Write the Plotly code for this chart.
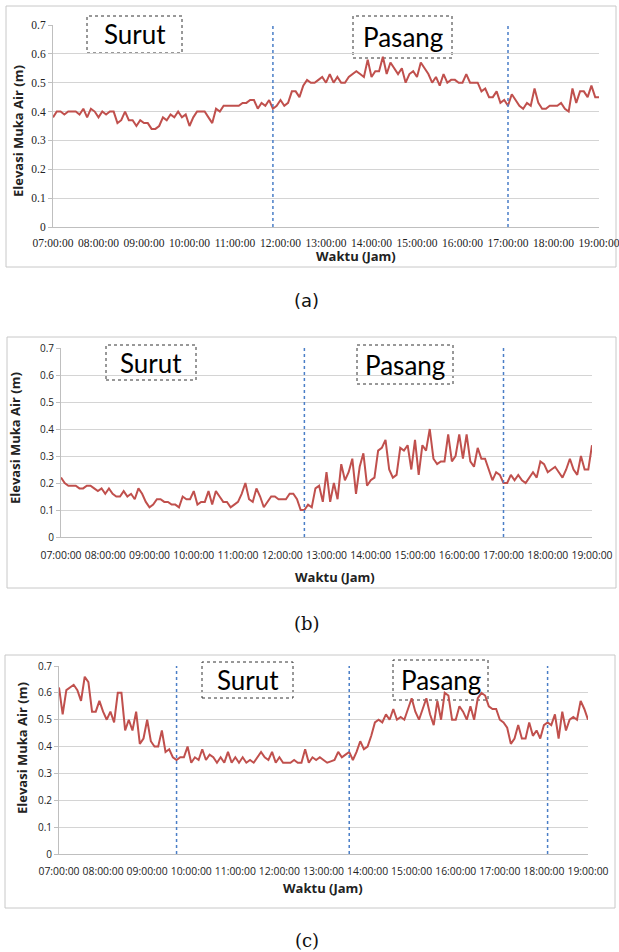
import plotly.graph_objects as go

W, H = 619, 952

# ---------------- data ----------------
tick_hours = list(range(7, 20))
tick_labels = [f"{h:02d}:00:00" for h in tick_hours]
step_minutes = 5

level_a = [0.38,0.40,0.40,0.39,0.40,0.40,0.40,0.39,0.41,0.38,
           0.41,0.40,0.38,0.40,0.39,0.40,0.40,0.36,0.37,0.40,
           0.37,0.37,0.35,0.37,0.36,0.36,0.34,0.34,0.35,0.38,
           0.37,0.39,0.38,0.40,0.38,0.39,0.35,0.38,0.40,0.40,
           0.40,0.38,0.36,0.41,0.40,0.42,0.42,0.42,0.42,0.42,
           0.43,0.43,0.44,0.44,0.41,0.43,0.42,0.44,0.41,0.42,
           0.44,0.42,0.43,0.47,0.47,0.45,0.49,0.51,0.50,0.50,
           0.51,0.52,0.50,0.53,0.50,0.52,0.50,0.50,0.52,0.53,
           0.54,0.53,0.52,0.58,0.52,0.54,0.54,0.59,0.53,0.57,
           0.55,0.53,0.55,0.50,0.53,0.54,0.52,0.57,0.55,0.53,
           0.50,0.52,0.49,0.53,0.50,0.51,0.51,0.50,0.50,0.53,
           0.50,0.50,0.50,0.47,0.48,0.45,0.45,0.47,0.43,0.44,
           0.42,0.46,0.44,0.42,0.41,0.43,0.42,0.48,0.43,0.41,
           0.41,0.42,0.42,0.42,0.43,0.41,0.40,0.48,0.43,0.47,
           0.47,0.45,0.49,0.45,0.45]

level_b = [0.22,0.20,0.19,0.19,0.19,0.18,0.18,0.19,0.19,0.18,
           0.17,0.18,0.16,0.18,0.16,0.15,0.15,0.17,0.15,0.16,
           0.14,0.18,0.16,0.13,0.11,0.12,0.14,0.14,0.13,0.13,
           0.12,0.12,0.11,0.15,0.14,0.14,0.17,0.12,0.13,0.13,
           0.17,0.12,0.17,0.15,0.13,0.13,0.11,0.12,0.13,0.16,
           0.20,0.14,0.13,0.18,0.15,0.11,0.13,0.15,0.15,0.14,
           0.14,0.14,0.16,0.16,0.14,0.10,0.10,0.12,0.11,0.18,
           0.19,0.13,0.24,0.13,0.20,0.14,0.27,0.21,0.24,0.29,
           0.16,0.26,0.31,0.19,0.21,0.22,0.32,0.33,0.36,0.25,
           0.22,0.23,0.33,0.32,0.34,0.25,0.36,0.23,0.34,0.32,
           0.40,0.29,0.27,0.28,0.28,0.38,0.28,0.30,0.38,0.29,
           0.38,0.28,0.26,0.33,0.29,0.29,0.25,0.21,0.24,0.23,
           0.20,0.20,0.23,0.21,0.23,0.21,0.20,0.22,0.24,0.22,
           0.28,0.27,0.24,0.25,0.26,0.24,0.22,0.25,0.29,0.25,
           0.23,0.30,0.25,0.25,0.34]

level_c = [0.62,0.52,0.61,0.62,0.63,0.61,0.57,0.66,0.64,0.53,
           0.53,0.57,0.53,0.50,0.53,0.49,0.60,0.60,0.46,0.50,
           0.46,0.53,0.41,0.43,0.50,0.42,0.40,0.40,0.46,0.38,
           0.39,0.36,0.35,0.36,0.36,0.40,0.34,0.36,0.35,0.39,
           0.35,0.37,0.36,0.34,0.36,0.34,0.38,0.34,0.36,0.34,
           0.36,0.34,0.35,0.34,0.36,0.38,0.36,0.35,0.38,0.34,
           0.36,0.34,0.34,0.34,0.35,0.34,0.34,0.39,0.34,0.36,
           0.35,0.36,0.35,0.34,0.345,0.35,0.38,0.36,0.37,0.38,
           0.35,0.38,0.42,0.39,0.40,0.44,0.49,0.50,0.49,0.52,
           0.50,0.54,0.50,0.51,0.50,0.54,0.58,0.53,0.50,0.54,
           0.58,0.52,0.48,0.57,0.50,0.60,0.59,0.50,0.50,0.55,
           0.53,0.50,0.55,0.50,0.58,0.60,0.59,0.55,0.54,0.54,
           0.50,0.49,0.47,0.41,0.43,0.48,0.43,0.43,0.49,0.44,
           0.46,0.43,0.48,0.49,0.48,0.52,0.43,0.53,0.46,0.50,
           0.51,0.50,0.57,0.54,0.50]

# phase boundaries (hours)
bounds_a = [11 + 50/60, 17.0]
bounds_b = [12.5, 17.0]
bounds_c = [9 + 40/60, 13 + 35/60, 18 + 5/60]

captions = ["(a)", "(b)", "(c)"]
y_title = "Elevasi Muka Air (m)"
x_title = "Waktu (Jam)"

def hours(vals):
    return [7 + i * step_minutes / 60 for i in range(len(vals))]

# ---------------- layout geometry (pixels) ----------------
panels = [
    dict(vals=level_a, bounds=bounds_a, plot=(53, 599, 25, 227), frame=(6, 616, 6, 267),
         tickfont=dict(family="Liberation Serif", size=11.5, color="#222"),
         ytickfont=dict(family="Liberation Serif", size=11.5, color="#222"), standoff=5,
         surut=(87, 182, 16, 53), pasang=(353, 452, 16, 58),
         xtitle=(356, 256), ytitle=(18, 131), caption=(306, 300, "DejaVu Sans")),
    dict(vals=level_b, bounds=bounds_b, plot=(61, 592, 348, 537), frame=(7, 616, 337, 588),
         tickfont=dict(family="Open Sans", size=10.4, color="#222"),
         ytickfont=dict(family="Open Sans", size=10, color="#222"), standoff=9,
         surut=(106, 196, 345, 380), pasang=(357, 453, 345, 384),
         xtitle=(335, 577), ytitle=(15, 438), caption=(307, 623, "DejaVu Serif")),
    dict(vals=level_c, bounds=bounds_c, plot=(59, 588, 666, 854), frame=(5, 615, 655, 908),
         tickfont=dict(family="Open Sans", size=10.4, color="#222"),
         ytickfont=dict(family="Open Sans", size=10, color="#222"), standoff=8,
         surut=(202, 293, 662, 698), pasang=(393, 488, 660, 700),
         xtitle=(323, 888), ytitle=(22, 748), caption=(307, 940, "DejaVu Serif")),
]

fig = go.Figure()
shapes, annotations = [], []
layout = dict(width=W, height=H, margin=dict(l=0, r=0, t=0, b=0), autosize=False,
              paper_bgcolor="white", plot_bgcolor="white", showlegend=False)

def px(x):
    return x / W

def py(y):
    return 1 - y / H

for k, p in enumerate(panels):
    n = "" if k == 0 else str(k + 1)
    xa, ya = "x" + n, "y" + n
    x0, x1, y0, y1 = p["plot"]
    fig.add_trace(go.Scatter(x=hours(p["vals"]), y=p["vals"], mode="lines",
                             line=dict(color="#C0504D", width=2),
                             xaxis=xa, yaxis=ya, hoverinfo="skip"))
    layout["xaxis" + n] = dict(domain=[px(x0), px(x1)], anchor=ya, range=[7, 19],
                               tickvals=tick_hours, ticktext=tick_labels,
                               tickfont=p["tickfont"], showgrid=False, zeroline=False,
                               showline=True, linecolor="#BFBFBF", linewidth=1,
                               ticks="", tickangle=0, automargin=False,
                               ticklabelstandoff=p["standoff"], ticklabeloverflow="allow")
    layout["yaxis" + n] = dict(domain=[py(y1), py(y0)], anchor=xa, range=[0, 0.7],
                               dtick=0.1, tick0=0, tickfont=p["ytickfont"],
                               showgrid=True, gridcolor="#D4D4D4", gridwidth=1.2,
                               zeroline=False, showline=True, linecolor="#BFBFBF",
                               linewidth=1, ticks="outside", ticklen=4,
                               tickcolor="#BFBFBF", automargin=False)
    # outer frame
    fx0, fx1, fy0, fy1 = p["frame"]
    shapes.append(dict(type="rect", xref="paper", yref="paper",
                       x0=px(fx0), x1=px(fx1), y0=py(fy1), y1=py(fy0),
                       line=dict(color="#C8C8C8", width=1), layer="below"))
    # phase boundary lines
    for b in p["bounds"]:
        shapes.append(dict(type="line", xref=xa, yref="paper", x0=b, x1=b,
                           y0=py(y1), y1=py(y0),
                           line=dict(color="#4A7EC7", width=1.5, dash="dot"), layer="above"))
    # label boxes
    for key, txt in (("surut", "Surut"), ("pasang", "Pasang")):
        bx0, bx1, by0, by1 = p[key]
        shapes.append(dict(type="rect", xref="paper", yref="paper",
                           x0=px(bx0), x1=px(bx1), y0=py(by1), y1=py(by0),
                           fillcolor="white", line=dict(color="#333", width=1, dash="dot"),
                           layer="below"))
        annotations.append(dict(text=txt, xref="paper", yref="paper",
                                x=px((bx0 + bx1) / 2), y=py((by0 + by1) / 2),
                                xanchor="center", yanchor="middle", showarrow=False,
                                font=dict(family="Lato", size=26, color="black")))
    # axis titles
    tx, ty = p["xtitle"]
    annotations.append(dict(text="<b>" + x_title + "</b>", xref="paper", yref="paper",
                            x=px(tx), y=py(ty), xanchor="center", yanchor="middle",
                            showarrow=False,
                            font=dict(family="Open Sans", size=13, color="#222")))
    tx, ty = p["ytitle"]
    annotations.append(dict(text="<b>" + y_title + "</b>", xref="paper", yref="paper",
                            x=px(tx), y=py(ty), xanchor="center", yanchor="middle",
                            showarrow=False, textangle=-90,
                            font=dict(family="Open Sans", size=13, color="#222")))
    cx, cy, cf = p["caption"]
    annotations.append(dict(text=captions[k], xref="paper", yref="paper",
                            x=px(cx), y=py(cy), xanchor="center", yanchor="middle",
                            showarrow=False, font=dict(family=cf, size=18, color="#111")))

layout["shapes"] = shapes
layout["annotations"] = annotations
fig.update_layout(**layout)
fig.write_html("out.html", config={"displayModeBar": False},
               post_script="document.body.style.margin='0';")
